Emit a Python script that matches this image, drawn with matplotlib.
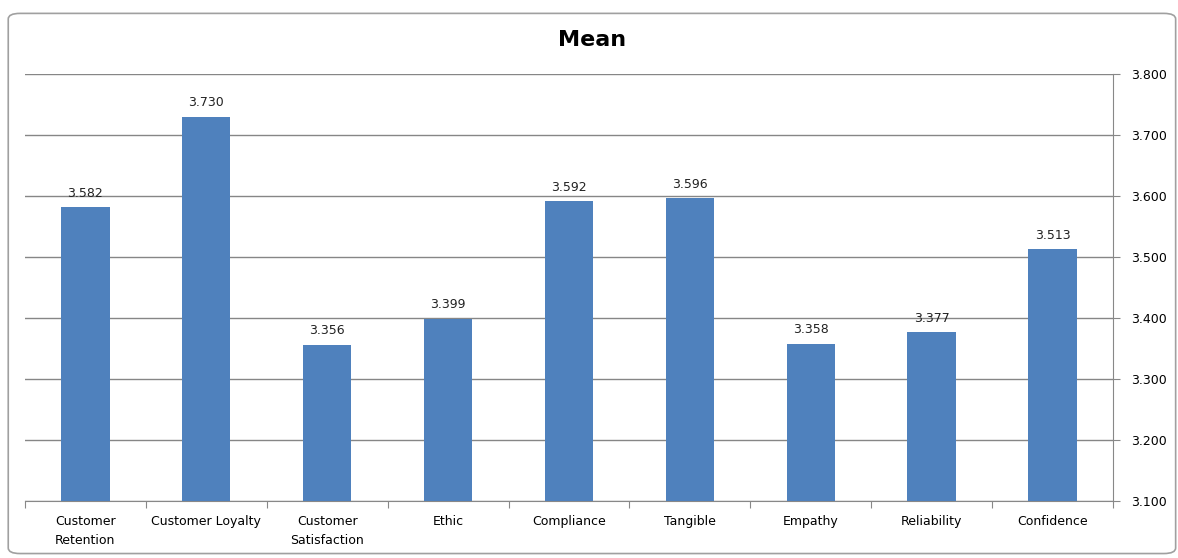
import matplotlib.pyplot as plt
import matplotlib.patches as patches
import numpy as np

categorias = ['Customer\nRetention', 'Customer Loyalty', 'Customer\nSatisfaction',
              'Ethic', 'Compliance', 'Tangible', 'Empathy', 'Reliability', 'Confidence']
medias = [3.582, 3.730, 3.356, 3.399, 3.592, 3.596, 3.358, 3.377, 3.513]
yticks = [3.1, 3.2, 3.3, 3.4, 3.5, 3.6, 3.7, 3.8]

plt.rcParams['font.family'] = ['DejaVu Sans']

fig = plt.figure(figsize=(11.78, 5.58), dpi=100)

# moldura do gráfico (estilo Excel)
moldura = patches.FancyBboxPatch((0.007, 0.008), 0.991, 0.968,
                                 boxstyle='round,pad=0,rounding_size=0.01',
                                 transform=fig.transFigure, fill=False,
                                 ec='#a0a0a0', lw=1.2)
fig.patches.append(moldura)

ax = fig.add_axes([0.0212, 0.1022, 0.9236, 0.7652])
x = np.arange(len(categorias))
ax.bar(x, medias, width=0.4, color='#4F81BD', zorder=3)

for xi, v in zip(x, medias):
    ax.text(xi, v + 0.012, f'{v:.3f}', ha='center', va='bottom', fontsize=9,
            color='#222222')

ax.set_xlim(-0.5, len(categorias) - 0.5)
ax.set_ylim(3.1, 3.8)
ax.set_yticks(yticks)
ax.set_yticklabels([f'{t:.3f}' for t in yticks], fontsize=9)
ax.yaxis.tick_right()
ax.tick_params(axis='y', length=5, color='#888888', pad=8)

# ticks nos limites das categorias
ax.set_xticks(np.arange(len(categorias) + 1) - 0.5)
ax.set_xticklabels([])
ax.set_xticks(x, minor=True)
ax.set_xticklabels(categorias, minor=True, fontsize=9, linespacing=1.6)
ax.tick_params(axis='x', which='major', length=5, color='#888888')
ax.tick_params(axis='x', which='minor', length=0, pad=10)

ax.grid(axis='y', color='#868686', lw=1, zorder=0)
for s in ['top', 'left']:
    ax.spines[s].set_visible(False)
ax.spines['bottom'].set_color('#888888')
ax.spines['right'].set_color('#888888')

fig.text(0.503, 0.928, 'Mean', ha='center', va='center', fontsize=16, weight='bold')

plt.savefig('out.png', dpi=100)
plt.close()
